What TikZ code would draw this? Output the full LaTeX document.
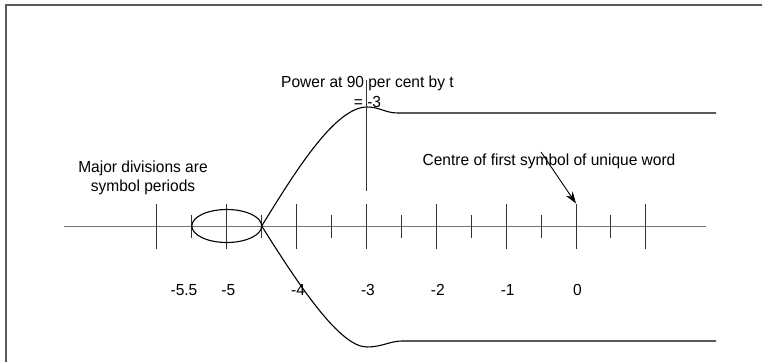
\documentclass[tikz,border=0pt]{standalone}
\usepackage{fontspec}
\setmainfont{Liberation Sans}[FakeStretch=0.97]
\usepackage{tikz}
\usetikzlibrary{arrows.meta,positioning,calc}

\begin{document}
\begin{tikzpicture}[x=1pt,y=1pt,
    lbl/.style={font=\fontsize{16}{19.5}\selectfont, inner sep=0pt},
    tickline/.style={black!80, line width=1pt},
    curve/.style={black, line width=1.1pt}]
    \useasboundingbox (0,0) rectangle (762,362);
    % frame (only top and left edges show)
    \draw[black!65, line width=1.2pt] (6,0) |- (762,357);

    % time axis, one symbol period = \per
    \def\per{69.85}
    \coordinate (axL) at (64,136);
    \coordinate (axR) at (706,136);
    \draw[black!55, line width=1pt] (axL) -- (axR);
    % major ticks
    \foreach \t in {-6,...,1} {
        \draw[tickline] ({576+\t*\per},113.5) -- ({576+\t*\per},158.5);
    }
    % minor ticks
    \foreach \t in {-5.5,-4.5,...,0.5} {
        \draw[tickline] ({576+\t*\per},124.5) -- ({576+\t*\per},147.5);
    }
    \coordinate (tzero) at (576,158.5);

    % tick labels
    \foreach \t in {-5,-4,-3,-2,-1,0} {
        \node[lbl, anchor=base] (lbl\t) at ({576+\t*\per+1.5},67) {\t};
    }
    \node[lbl, anchor=base] (lblhalf) at (184,67) {-5.5};

    % ellipse round t = -5
    \draw[curve] (226.75,136) ellipse [x radius=34.93pt, y radius=16.5pt];

    % power envelope
    \coordinate (split) at (261.7,136);
    \draw[curve] (split) .. controls (295,190) and (335,255) .. (367,255)
        .. controls (380,255) and (385,249) .. (398,249) -- (716,249);
    \draw[curve] (split) .. controls (300,75) and (340,15) .. (367,15)
        .. controls (382,15) and (390,21) .. (402,21) -- (716,21);

    % marker at t = -3
    \coordinate (mtop) at (366.45,282);
    \coordinate (mbot) at (366.45,171);
    \draw[black!80, line width=1pt] (mtop) -- (mbot);

    % texts
    \node[lbl, align=center, anchor=north] (power) at (367.5,285.8)
        {Power at 90 per cent by t\\= -3};
    \node[lbl, align=center, anchor=north] (major) at (143,201.5)
        {Major divisions are\\symbol periods};
    \node[lbl, anchor=base] (centre) at (549,197)
        {Centre of first symbol of unique word};

    % arrow to first symbol centre
    \coordinate (arrtail) at (541,210);
    \draw[black, line width=0.9pt, -{Stealth[length=12pt,width=8pt]}]
        (arrtail) -- (tzero);
\end{tikzpicture}
\end{document}
